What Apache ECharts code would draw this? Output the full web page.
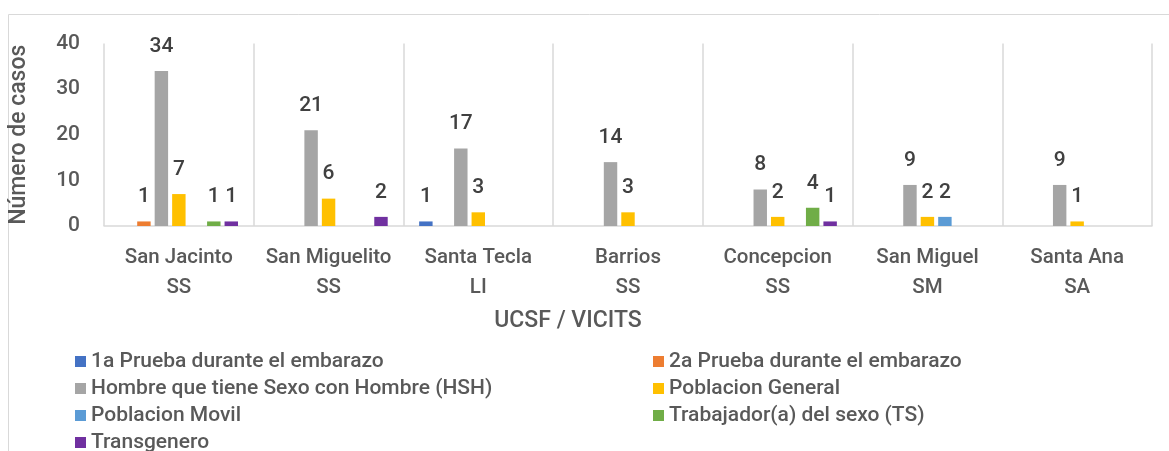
<!DOCTYPE html>
<html>
<head>
<meta charset="utf-8">
<script src="https://cdn.jsdelivr.net/npm/echarts@6/dist/echarts.min.js"></script>
<style>
  html, body { margin: 0; padding: 0; background: #fff; }
  #main { width: 1169px; height: 451px; }
</style>
</head>
<body>
<div id="main"></div>
<script>
// categorias (UCSF / VICITS)
const categories = [
  'San Jacinto\nSS', 'San Miguelito\nSS', 'Santa Tecla\nLI', 'Barrios\nSS',
  'Concepcion\nSS', 'San Miguel\nSM', 'Santa Ana\nSA'
];
const seriesNames = [
  '1a Prueba durante el embarazo',
  '2a Prueba durante el embarazo',
  'Hombre que tiene Sexo con Hombre (HSH)',
  'Poblacion General',
  'Poblacion Movil',
  'Trabajador(a) del sexo (TS)',
  'Transgenero'
];
const prueba1 = [0, 0, 1, 0, 0, 0, 0];
const prueba2 = [1, 0, 0, 0, 0, 0, 0];
const hsh = [34, 21, 17, 14, 8, 9, 9];
const general = [7, 6, 3, 3, 2, 2, 1];
const movil = [0, 0, 0, 0, 0, 2, 0];
const ts = [1, 0, 0, 0, 4, 0, 0];
const trans = [1, 2, 0, 0, 1, 0, 0];
const yTicks = [0, 10, 20, 30, 40];

const colors = ['#4472C4', '#ED7D31', '#A5A5A5', '#FFC000', '#5B9BD5', '#70AD47', '#7030A0'];
const values = [prueba1, prueba2, hsh, general, movil, ts, trans];
const fontFamily = 'Roboto, sans-serif';

const myChart = echarts.init(document.getElementById('main'));

// leyenda en dos columnas, como en Excel
const legendBase = {
  orient: 'vertical',
  top: 346,
  height: 140,
  itemWidth: 11,
  itemHeight: 11,
  itemGap: 6,
  icon: 'rect',
  textStyle: { fontSize: 21, fontWeight: 500, color: '#595959', lineHeight: 21, fontFamily: fontFamily }
};

myChart.setOption({
  animation: false,
  textStyle: { fontFamily: fontFamily },
  color: colors,
  graphic: [
    {
      type: 'rect',
      shape: { x: 8.5, y: 14.5, width: 1300, height: 600 },
      style: { fill: 'none', stroke: '#d9d9d9', lineWidth: 1 },
      silent: true
    }
  ],
  grid: { left: 104, right: 17, top: 43.5, bottom: 225 },
  legend: [
    Object.assign({}, legendBase, {
      left: 70,
      data: [seriesNames[0], seriesNames[2], seriesNames[4], seriesNames[6]]
    }),
    Object.assign({}, legendBase, {
      left: 648,
      data: [seriesNames[1], seriesNames[3], seriesNames[5]]
    })
  ],
  xAxis: {
    type: 'category',
    data: categories,
    name: 'UCSF / VICITS',
    nameLocation: 'middle',
    nameGap: 84,
    nameTextStyle: { fontSize: 23, fontWeight: 500, color: '#595959', padding: [0, 120, 0, 0] },
    axisLine: { lineStyle: { color: '#d9d9d9', width: 1.5 } },
    axisTick: { show: false },
    splitLine: { show: true, lineStyle: { color: '#d9d9d9', width: 1.5 } },
    axisLabel: { fontSize: 20.5, fontWeight: 500, color: '#595959', lineHeight: 30, margin: 17, interval: 0 }
  },
  yAxis: {
    type: 'value',
    min: yTicks[0],
    max: yTicks[yTicks.length - 1],
    interval: 10,
    name: 'Número de casos',
    nameLocation: 'middle',
    nameGap: 73,
    nameTextStyle: { fontSize: 23, fontWeight: 500, color: '#595959' },
    axisLine: { show: false },
    axisTick: { show: false },
    splitLine: { show: false },
    axisLabel: { fontSize: 21, fontWeight: 500, color: '#595959', margin: 24 }
  },
  series: seriesNames.map((name, i) => ({
    name: name,
    type: 'bar',
    data: values[i],
    barGap: '30%',
    barCategoryGap: '21%',
    itemStyle: { color: colors[i] },
    label: {
      show: true,
      position: 'top',
      distance: 14,
      fontSize: 21,
      fontWeight: 500,
      color: '#404040',
      formatter: (p) => (p.value ? p.value : '')
    }
  }))
});
</script>
</body>
</html>
